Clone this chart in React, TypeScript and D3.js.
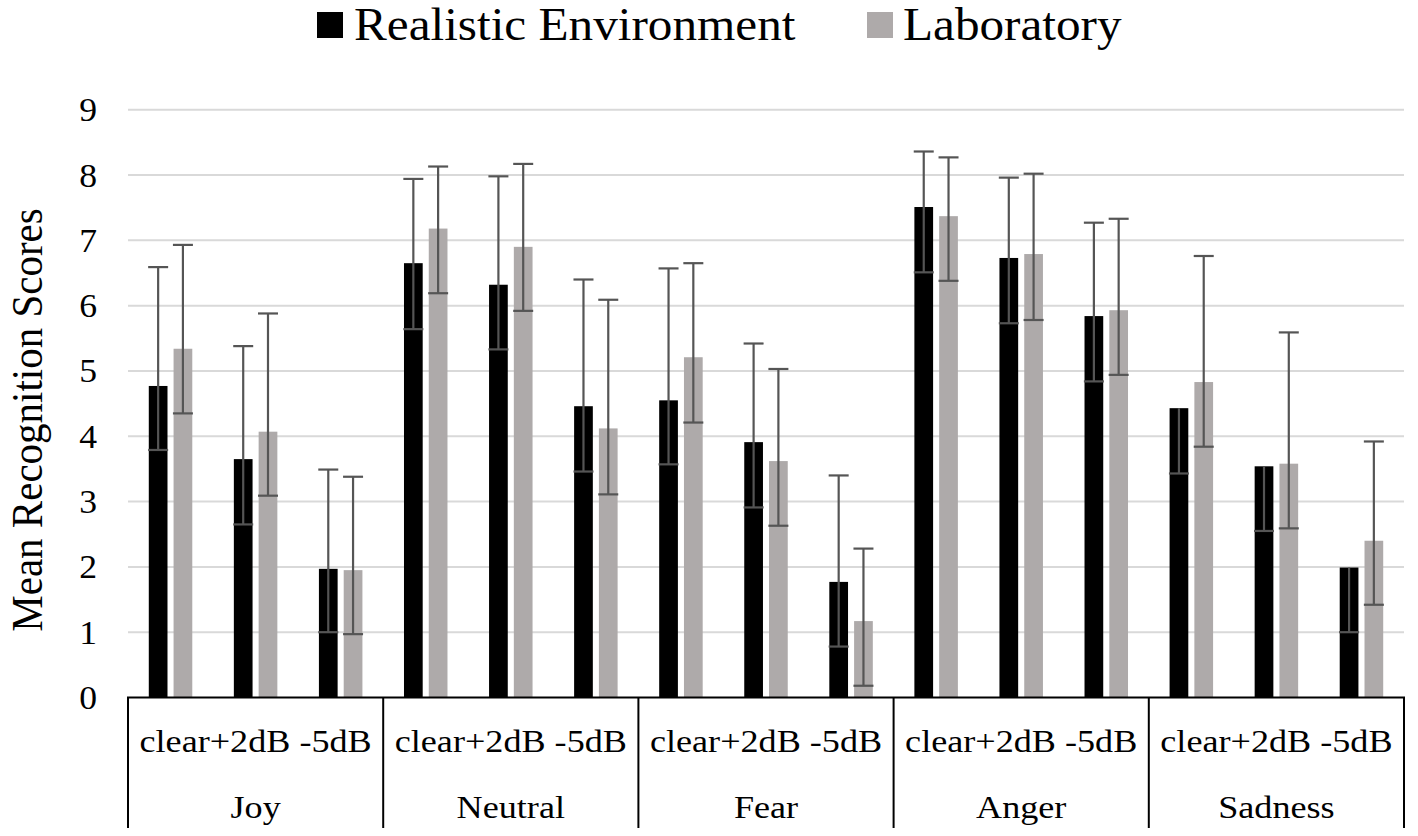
import React from "react";
import * as d3 from "d3";

const groups = ["Joy", "Neutral", "Fear", "Anger", "Sadness"];
const conditions = ["clear", "+2dB", "-5dB"];
const seriesNames = ["Realistic Environment", "Laboratory"];
const seriesColors = ["#000000", "#aeaaaa"];

// values per group x condition (row-major: group, then condition)
const realistic = [4.77, 3.65, 1.97, 6.65, 6.32, 4.46, 4.55, 3.91, 1.77, 7.51, 6.73, 5.84, 4.43, 3.54, 1.99];
const realisticUpper = [6.59, 5.38, 3.49, 7.94, 7.98, 6.4, 6.57, 5.42, 3.4, 8.36, 7.96, 7.27, 4.43, 3.54, 1.99];
const realisticLower = [3.79, 2.65, 1.0, 5.64, 5.33, 3.46, 3.57, 2.91, 0.78, 6.51, 5.73, 4.84, 3.43, 2.55, 1.0];
const laboratory = [5.34, 4.07, 1.95, 7.18, 6.9, 4.12, 5.21, 3.62, 1.17, 7.37, 6.79, 5.93, 4.83, 3.58, 2.4];
const laboratoryUpper = [6.93, 5.88, 3.38, 8.13, 8.17, 6.09, 6.65, 5.03, 2.28, 8.27, 8.02, 7.33, 6.76, 5.59, 3.92];
const laboratoryLower = [4.35, 3.09, 0.97, 6.19, 5.92, 3.11, 4.21, 2.63, 0.18, 6.38, 5.78, 4.94, 3.84, 2.59, 1.42];
const yTicks = [0, 1, 2, 3, 4, 5, 6, 7, 8, 9];
const yTitle = "Mean Recognition Scores";

const W = 1418;
const H = 836;
const FONT = "'Liberation Serif', 'Times New Roman', serif";

const plotLeft = 128;
const plotRight = 1404;
const y = d3.scaleLinear().domain([0, 9]).range([697.5, 109.7]);
const xGroup = d3.scaleBand().domain(groups).range([plotLeft, plotRight]).padding(0);
const xCond = d3.scaleBand().domain(conditions).range([0, xGroup.bandwidth()]).padding(0);

const seriesData = [
  { values: realistic, upper: realisticUpper, lower: realisticLower },
  { values: laboratory, upper: laboratoryUpper, lower: laboratoryLower },
];

function SText({ x, y: ty, sx = 1.13, size, anchor = "middle", children }: any) {
  return (
    <text
      transform={`translate(${x},${ty}) scale(${sx},1)`}
      fontFamily={FONT}
      fontSize={size}
      textAnchor={anchor}
      fill="#000"
    >
      {children}
    </text>
  );
}

export default function App() {
  const pairHalf = 21.75;
  const capW = 20;
  const bars: any[] = [];
  const errs: any[] = [];
  groups.forEach((g, gi) => {
    conditions.forEach((c, ci) => {
      const idx = gi * conditions.length + ci;
      const center = (xGroup(g) as number) + (xCond(c) as number) + xCond.bandwidth() / 2;
      const xs = d3
        .scaleBand()
        .domain(seriesNames)
        .range([center - pairHalf, center + pairHalf])
        .paddingInner(0.245)
        .paddingOuter(0);
      seriesData.forEach((s, si) => {
        const bx = xs(seriesNames[si]) as number;
        const v = s.values[idx];
        bars.push(
          <rect
            key={`b${idx}-${si}`}
            x={bx}
            y={y(v)}
            width={xs.bandwidth()}
            height={y(0) - y(v)}
            fill={seriesColors[si]}
          />
        );
        const cx = bx + xs.bandwidth() / 2;
        const up = s.upper[idx];
        const lo = s.lower[idx];
        errs.push(
          <g key={`e${idx}-${si}`} stroke="#555555" strokeWidth={2.2} fill="none">
            <line x1={cx} x2={cx} y1={y(lo)} y2={y(up)} />
            <line x1={cx - capW / 2} x2={cx + capW / 2} y1={y(lo)} y2={y(lo)} />
            {up > v + 0.001 && <line x1={cx - capW / 2} x2={cx + capW / 2} y1={y(up)} y2={y(up)} />}
          </g>
        );
      });
    });
  });

  const separators = [...groups.map((g) => xGroup(g) as number), plotRight];

  return (
    <div style={{ position: "fixed", left: 0, top: 0 }}>
      <svg width={W} height={H} viewBox={`0 0 ${W} ${H}`} style={{ display: "block", background: "#fff" }}>
        <rect x={0} y={0} width={W} height={H} fill="#fff" />
        {/* gridlines */}
        {yTicks.slice(1).map((t) => (
          <line key={`g${t}`} x1={plotLeft} x2={plotRight} y1={y(t)} y2={y(t)} stroke="#d9d9d9" strokeWidth={2} />
        ))}
        {/* y tick labels */}
        {yTicks.map((t) => (
          <SText key={`t${t}`} x={97} y={y(t) + 11.5} size={33} anchor="end" sx={1.08}>
            {t}
          </SText>
        ))}
        {/* y title */}
        <text
          transform={`translate(42,420) rotate(-90) scale(1,1.08)`}
          fontFamily={FONT}
          fontSize={41}
          textAnchor="middle"
          fill="#000"
        >
          {yTitle}
        </text>
        {bars}
        {errs}
        {/* axis */}
        <line x1={plotLeft - 1} x2={plotRight + 1} y1={y(0)} y2={y(0)} stroke="#000" strokeWidth={2} />
        {separators.map((sx, i) => (
          <line key={`s${i}`} x1={sx} x2={sx} y1={y(0)} y2={828} stroke="#000" strokeWidth={2} />
        ))}
        {/* category labels */}
        {groups.map((g) => {
          const gc = (xGroup(g) as number) + xGroup.bandwidth() / 2;
          return (
            <g key={`l${g}`}>
              <SText x={gc} y={752} size={32}>
                {conditions.map((c, ci) => (
                  <tspan key={c}>{(ci === 2 ? " " : "") + c}</tspan>
                ))}
              </SText>
              <SText x={gc} y={818} size={32}>
                {g}
              </SText>
            </g>
          );
        })}
        {/* legend */}
        <rect x={317} y={12} width={26} height={26} fill={seriesColors[0]} />
        <SText x={354} y={40} size={46} anchor="start" sx={1.07}>
          {seriesNames[0]}
        </SText>
        <rect x={867} y={12} width={26} height={26} fill={seriesColors[1]} />
        <SText x={903} y={40} size={46} anchor="start" sx={1.07}>
          {seriesNames[1]}
        </SText>
      </svg>
    </div>
  );
}
